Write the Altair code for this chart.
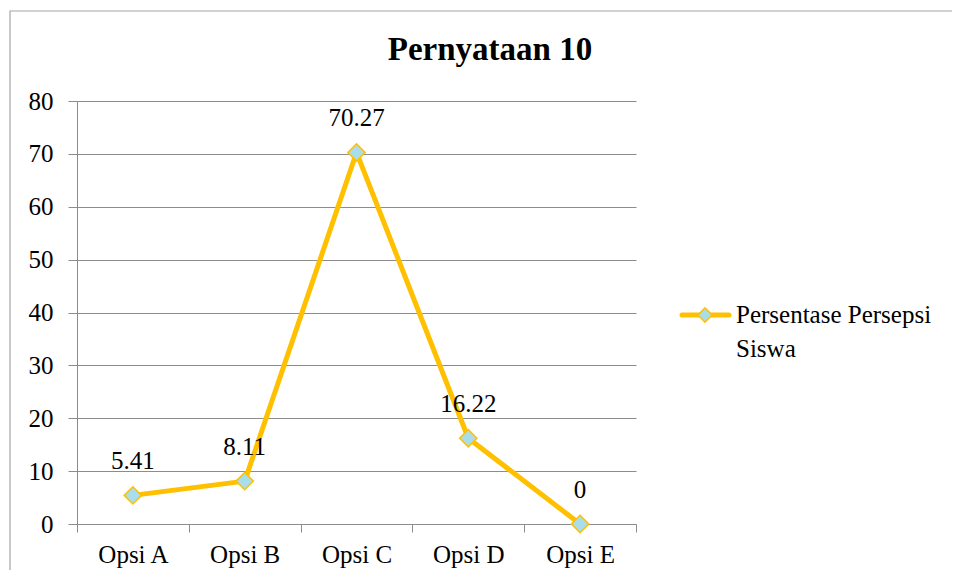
import altair as alt
import pandas as pd

categories = ["Opsi A", "Opsi B", "Opsi C", "Opsi D", "Opsi E"]
values = [5.41, 8.11, 70.27, 16.22, 0]
label_texts = ["5.41", "8.11", "70.27", "16.22", "0"]
series_name = "Persentase Persepsi Siswa"
y_ticks = [0, 10, 20, 30, 40, 50, 60, 70, 80]

df = pd.DataFrame({"kategori": categories, "nilai": values, "label": label_texts})

FONT = "Times New Roman, Liberation Serif, serif"
FS = 25
GOLD = "#FFC000"
BLUE = "#A9DDEA"
GRID = "#8C8C8C"

x_enc = alt.X("kategori:N", sort=categories, bandPosition=0.5,
              scale=alt.Scale(type="band", paddingInner=0, paddingOuter=0),
              axis=alt.Axis(title=None, labelAngle=0, labelFont=FONT, labelFontSize=FS,
                            labelColor="black", tickBand="extent", tickSize=8,
                            tickColor=GRID, domainColor=GRID, labelPadding=10,
                            grid=False))
y_enc = alt.Y("nilai:Q", scale=alt.Scale(domain=[0, 80], nice=False),
              axis=alt.Axis(title=None, values=y_ticks, labelFont=FONT, labelFontSize=FS,
                            labelColor="black", tickSize=9, tickColor=GRID,
                            domainColor=GRID, gridColor=GRID, labelPadding=15))

base = alt.Chart(df)

frame = base.mark_rect(fill="white", fillOpacity=0, stroke="#A6A6A6", strokeWidth=1.2).encode(
    x=alt.value(-67), x2=alt.value(900), y=alt.value(-90), y2=alt.value(600)
).transform_filter(alt.datum.kategori == "Opsi A")

line = base.mark_line(color=GOLD, strokeWidth=5, strokeJoin="round").encode(x=x_enc, y=y_enc)
points = base.mark_point(shape="diamond", size=300, filled=True, fill=BLUE,
                         stroke=GOLD, strokeWidth=1.5, opacity=1).encode(x=x_enc, y=y_enc)
labels = base.mark_text(font=FONT, fontSize=FS, color="black", baseline="middle", dy=-34).encode(
    x=x_enc, y=y_enc, text="label:N")

title = base.mark_text(font=FONT, fontSize=33, fontWeight="bold", color="black",
                       baseline="middle", align="center").encode(
    x=alt.value(413), y=alt.value(-51), text=alt.value("Pernyataan 10")
).transform_filter(alt.datum.kategori == "Opsi A")

# legend
leg = pd.DataFrame({"s": [series_name]})
leg_line = alt.Chart(leg).mark_rule(color=GOLD, strokeWidth=5, strokeCap="round").encode(
    x=alt.value(605), x2=alt.value(652), y=alt.value(214))
leg_pt = alt.Chart(leg).mark_point(shape="diamond", size=200, filled=True, fill=BLUE,
                                   stroke=GOLD, strokeWidth=1.5, opacity=1).encode(
    x=alt.value(628), y=alt.value(214))
leg_txt1 = alt.Chart(leg).mark_text(font=FONT, fontSize=FS, align="left", baseline="middle",
                                    color="black").encode(
    x=alt.value(659), y=alt.value(214), text=alt.value("Persentase Persepsi"))
leg_txt2 = alt.Chart(leg).mark_text(font=FONT, fontSize=FS, align="left", baseline="middle",
                                    color="black").encode(
    x=alt.value(659), y=alt.value(248), text=alt.value("Siswa"))

chart = alt.layer(frame, line, points, labels, title, leg_line, leg_pt, leg_txt1, leg_txt2).properties(
    width=559, height=423,
    autosize=alt.AutoSizeParams(type="none"),
    padding={"left": 69, "top": 93, "right": 316, "bottom": 46},
).configure_view(stroke=None).configure_axis(domainWidth=1, gridWidth=1, tickWidth=1)

chart.save("out.html", embed_options={"renderer": "svg", "actions": False})
